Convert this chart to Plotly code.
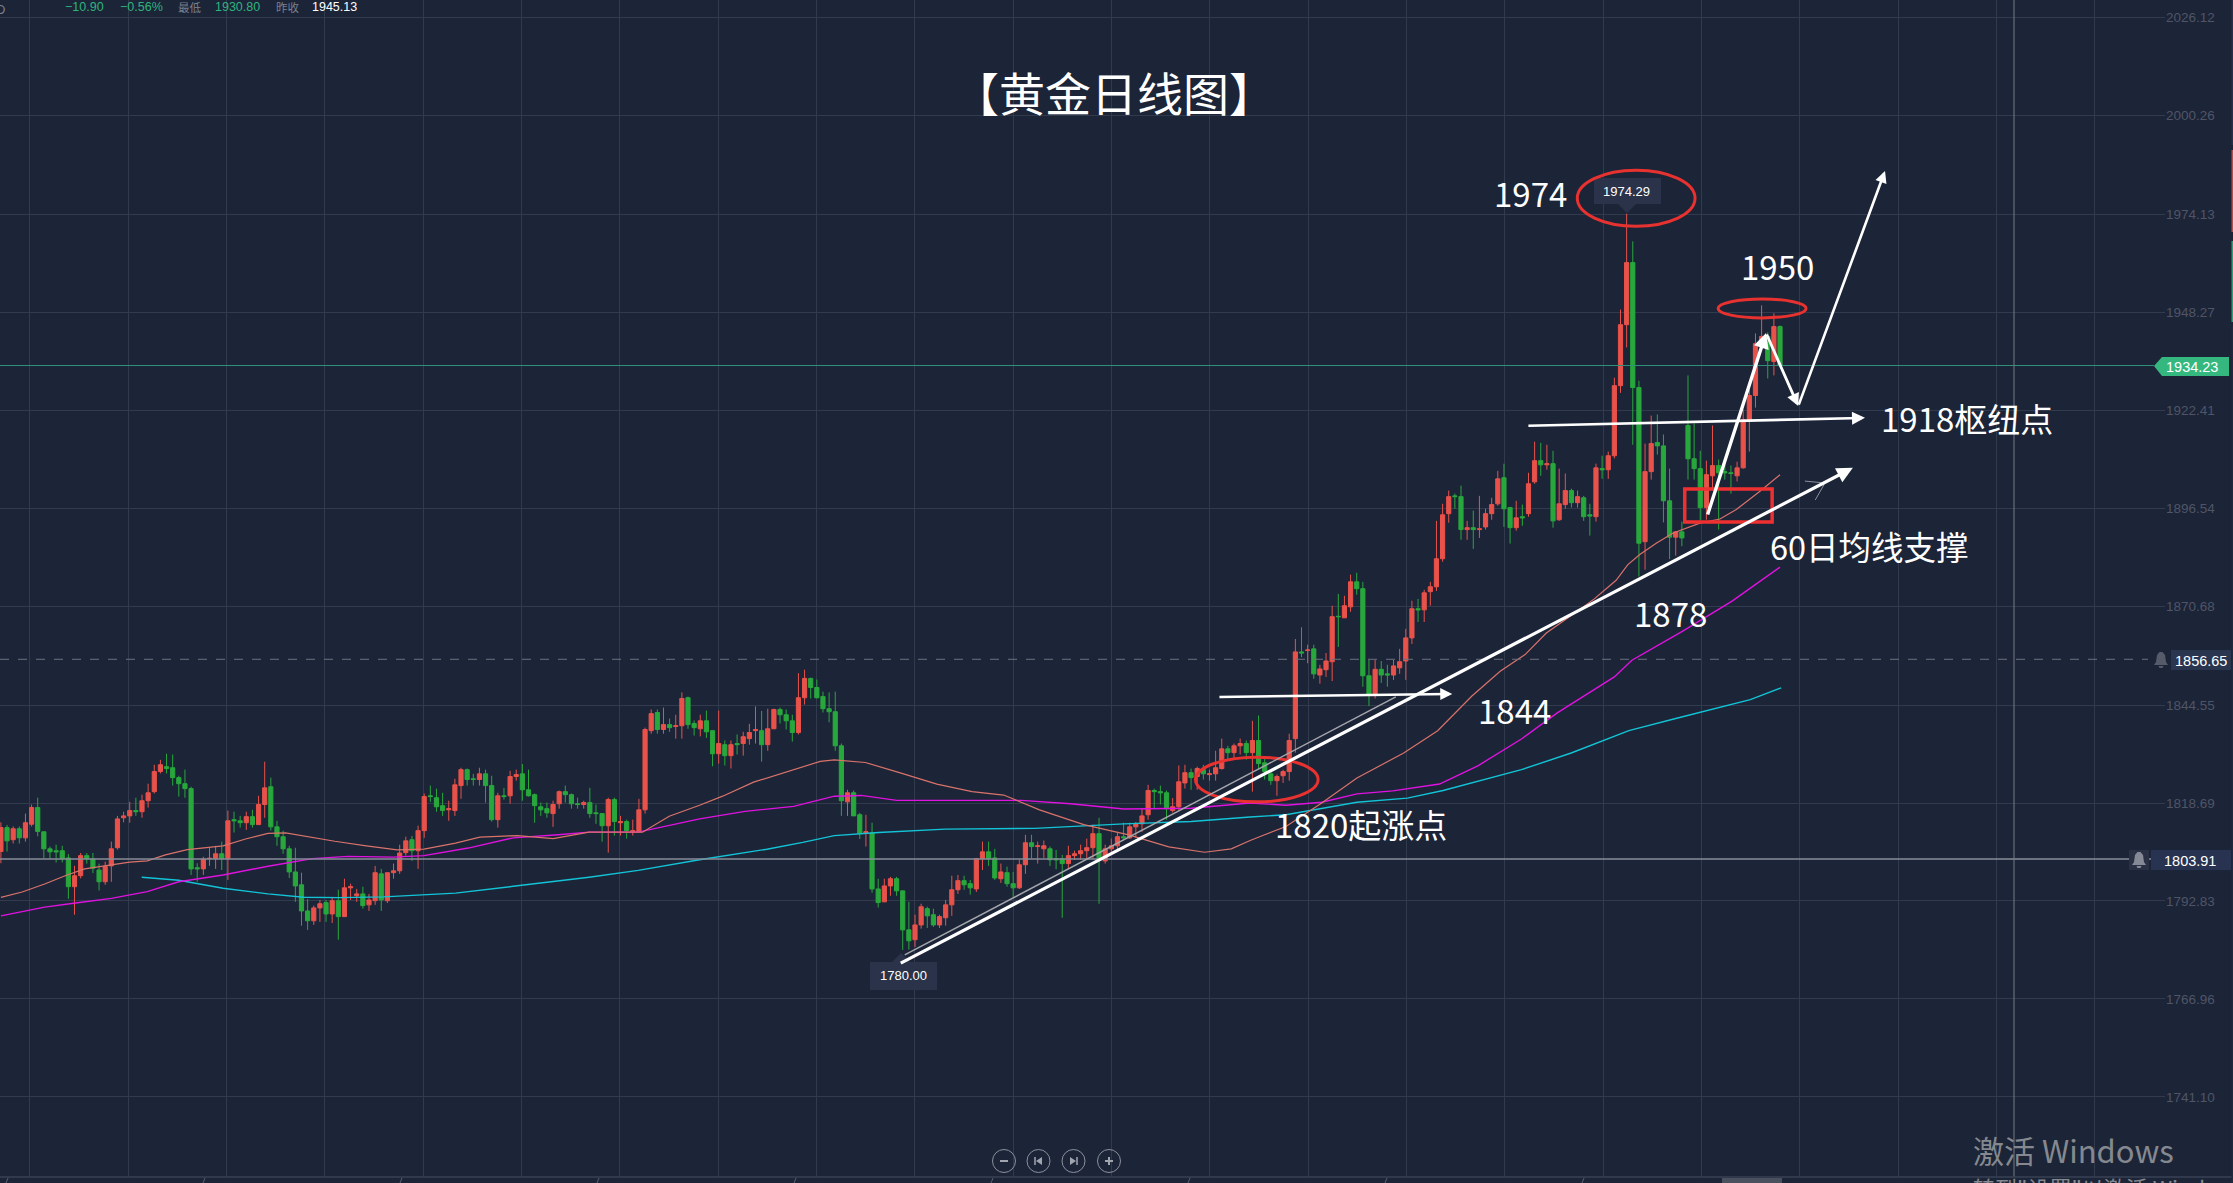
import plotly.graph_objects as go

# ---------- candle data (direction, body top, body bottom, high, low) ----------
direction = (
    "RGRGRRGGGG" "GGRRGGGRRR" "RRGRRRRGGG" "GGGRRRGRGG" "RGRRGGGGGG"
    "GRRGRGRRRG" "RRGRRRRGRR" "GGGRRRGGRG" "GRGRRGGGGG" "RRGGGRGGGR"
    "GRGRRRRGRGRRGG"
    "RGGRGRGRRR" "GRRGGGRRGG" "GGGGRGGRGG" "RRGGGRRGGR" "RRRGGRRGGR"
    "GGRRGRRGGG" "RRRRRGRRRG" "RRRRGGGRRR" "GRGRRRGRRG" "RGGGRRRR"
    "GRGRRRGRRG" "GGRGGRRRRG" "RRRRRGGRGR" "RRRGGRGRRG" "RGRRGRGGRGR"
    "RRRGGRRGGG" "RGGGGRRGGG" "RRRRRGRG"
)
body_top = [
    1812.2,1812.2,1811.9,1811.9,1813.5,1817.5,1817.5,1811.1,1806.6,1806.1,
    1806.1,1804.2,1799.5,1804.8,1804.8,1803.9,1801,1801.9,1806.6,1814.5,
    1815.3,1816.7,1816.7,1819.3,1821.4,1827,1828.8,1828.3,1828,1825.4,
    1823.8,1822.5,1801.6,1803.9,1804.1,1805.3,1805.3,1814,1814.3,1814,
    1815.1,1815.1,1818.3,1822.7,1823,1812.4,1809.8,1806.6,1800.5,1797.1,
    1790.2,1791,1792.1,1792.4,1792.9,1792.9,1796.3,1796.6,1794.7,1794.7,
    1793.1,1800.3,1800,1800.3,1800.8,1805.5,1808.7,1809,1811.4,1820.4,
    1820.6,1820.1,1818,1817.2,1823.5,1827.5,1827.5,1825.1,1826.4,1826.4,
    1823.3,1820.6,1820.6,1825.7,1826.2,1826.4,1822.2,1820.9,1817.7,1817.2,
    1818.3,1821.7,1821.7,1820.9,1818.5,1818.8,1818.8,1816.1,1815.9,1819.6,
    1819.6,1813.8,1813.8,1811.4,1816.9,1838.1,1842.3,1842.6,1839.4,1839.4,1839.1,1846.3,1846.5,1839.7,
    1840.4,1840.4,1837.8,1834.4,1834.1,1834.1,1834.4,1836.2,1837.3,1838.1,
    1837.8,1838.3,1843.4,1843.4,1842,1840.4,1846.5,1851.6,1851.6,1849.2,
    1846.8,1843.6,1842.8,1833.8,1821.4,1821.4,1815.6,1811.1,1810.8,1796,
    1796.8,1798.7,1798.7,1795.5,1785.2,1786.5,1791.3,1790.8,1789.2,1788.7,
    1791.8,1795.8,1798.2,1798.2,1797.4,1804,1805.8,1805.8,1804.2,1800.5,
    1800.3,1797.4,1802.4,1808.2,1808.2,1807.4,1807.4,1806.6,1804,1804,
    1804.8,1805.3,1806.1,1806.9,1810.6,1810.6,1806.6,1807.4,1809.8,1809.8,
    1812.4,1813.2,1815.3,1822,1822,1821.7,1821.4,1817.7,1824.3,1826.7,
    1826.7,1827.8,1827.5,1826.4,1828,1833,1833,1833.8,1834.4,1834.4,
    1835.2,1835.2,1829.3,1826.4,1825.7,1827,1835.2,1858.6,
    1858.6,1859.1,1859.4,1854.1,1856.2,1867.9,1868,1870.8,1877.1,1877.1,
    1875.3,1852.3,1854,1854,1852.8,1854.9,1856,1862.3,1870,1870,
    1874.2,1875.8,1883.2,1894.8,1899.6,1899.8,1899.6,1891.4,1891.4,1891.1,
    1895.1,1897.5,1904.3,1904.6,1896.7,1894,1894.3,1903,1909.1,1909.1,
    1908.3,1908.3,1897.7,1901.2,1901.2,1899.6,1899.3,1894.8,1907.2,1907,1910.4,
    1928.9,1945,1961.4,1961.4,1928.4,1906.2,1913.6,1913.9,1913,1898.5,
    1890.3,1890.3,1918.4,1909.6,1907,1905.4,1907.8,1907.8,1906.2,1905.9,
    1907.2,1919.9,1926.3,1940,1941.9,1941.9,1944.5,1944.5,
]
body_bottom = [
    1805.9,1808.7,1809,1809.5,1809.5,1813.1,1811.2,1806.6,1805.8,1805.8,
    1804,1796.6,1796.6,1799.5,1804,1801.5,1797.9,1797.9,1802.1,1806.9,
    1814.8,1815.3,1816.4,1816.4,1819.3,1821.7,1827,1827.8,1825.4,1823.8,
    1822.5,1801.3,1801.3,1801.3,1804,1804,1804,1804,1814,1813.5,
    1813.5,1813,1813,1818.3,1812.4,1809.8,1806.6,1800.5,1796.8,1790.2,
    1787.6,1787.6,1791,1789.4,1789.4,1788.7,1788.7,1796.3,1794.2,1791.6,
    1791.8,1792.9,1793.1,1792.9,1800.3,1800.8,1805.6,1806.1,1806.1,1811.4,
    1820.4,1817.7,1816.7,1816.9,1816.7,1823.3,1824.9,1824.9,1824.9,1823.3,
    1814.3,1814.3,1820.4,1820.6,1825.7,1822.2,1820.6,1818,1816.9,1816.1,
    1815.9,1818.5,1820.9,1818.5,1818.3,1818.3,1815.9,1815.9,1812.7,1812.7,
    1813.8,1813.5,1811.4,1811.1,1811.1,1816.9,1837.8,1838.1,1838.1,1838.6,1838.9,1839.1,1839.4,1838.6,
    1838.3,1837.5,1831.7,1831.7,1831.2,1831.2,1834.1,1834.4,1835.7,1837.8,
    1834.1,1834.1,1838.3,1842,1840.4,1837.3,1837.3,1846.5,1849.2,1846.5,
    1843.6,1842.8,1833.8,1819.3,1819,1815.3,1810.6,1810.8,1796,1792.4,
    1792.6,1796.8,1795.5,1785.2,1782.3,1782.6,1786.5,1788.9,1786.5,1786.5,
    1788.4,1791.8,1795.8,1797.1,1796.3,1796,1804,1804,1798.9,1798.7,
    1797.4,1796.3,1796.3,1802.4,1807.2,1807.2,1806.6,1803.7,1803.7,1802.7,
    1802.7,1804.8,1805.3,1806.1,1806.9,1803.7,1803.4,1806.6,1807.4,1809.5,
    1809.5,1812.4,1813.2,1815.6,1821.7,1821.4,1817.2,1816.7,1817.7,1824,
    1825.4,1825.7,1826.4,1826.2,1826.4,1827.8,1832,1832,1833.8,1832,
    1832,1829.1,1827,1824.6,1824.6,1825.9,1827,1835.7,
    1858.3,1859,1852.8,1852.5,1853.9,1856,1867.9,1867.6,1870.5,1875.3,
    1852.3,1847.5,1847.5,1852.5,1852.5,1852.5,1854.4,1856.2,1862.3,1869.7,
    1869.7,1874.5,1875.8,1883.2,1895.1,1899.6,1890.9,1890.9,1890.9,1890.9,
    1891.6,1895.1,1897.7,1896.4,1891.4,1891.4,1894,1895.1,1903.5,1908,
    1908,1893.2,1893.5,1897.5,1898,1898,1894.3,1894.5,1894.3,1906.7,1906.7,
    1910.4,1928.9,1945,1928.4,1887.3,1887.7,1906.2,1913,1898.5,1888.9,
    1888.9,1888.7,1909.6,1907,1896.7,1896.7,1905.1,1905.9,1905.9,1905.7,
    1905.1,1907.2,1919.9,1926.3,1940,1935.5,1935.3,1934.2,
]
wick_high = [
    1813.6,1812.9,1812.5,1812.5,1815.9,1818.3,1820.1,1811.1,1807.2,1807.7,
    1807.4,1805.2,1802.1,1805.5,1805.5,1805.5,1802.7,1803.2,1808.5,1815.3,
    1816.4,1819,1820.1,1820.9,1823.8,1828.8,1830.1,1831.7,1831.5,1825.9,
    1827.5,1823,1802.8,1804.5,1806.9,1807.4,1808.5,1816.7,1816.4,1815.3,
    1816.4,1816.9,1820.6,1829.6,1825.4,1814,1811.4,1807.4,1806.9,1800.3,
    1793.3,1791.6,1793.1,1793.1,1793.9,1795.8,1798.7,1797.4,1796,1796.6,
    1794.7,1802.1,1801.3,1800.3,1802.7,1807.7,1809.8,1810,1812.7,1821.2,
    1823.3,1822.5,1821.4,1819.3,1825.1,1828,1827.8,1826.4,1828,1827.5,
    1825.9,1821.4,1822.7,1827.2,1827.5,1829,1827.5,1821.2,1818.8,1818.8,
    1819.3,1822,1823.3,1821.2,1820.1,1819.3,1822.7,1818.3,1815.9,1820.1,
    1820.1,1815.3,1814.3,1814.3,1819.8,1838.6,1843.4,1843.4,1843.9,1841,1842,1847.9,1846.8,1840.5,
    1842,1843.1,1838,1843.1,1835.2,1835.2,1836.8,1837.5,1839.6,1844.2,
    1843,1843.6,1843.6,1843.9,1843.4,1842,1853,1853.9,1851.8,1851.3,
    1848.1,1847.9,1848.1,1834.4,1822.2,1822,1816.1,1815.6,1813.5,1798.7,
    1798.7,1799.2,1799.2,1795.5,1792.6,1789.2,1792.1,1791.3,1790.8,1789.2,
    1793.1,1799.5,1799.7,1799.5,1798.4,1804.2,1808.5,1808.5,1806.6,1802.7,
    1801.9,1800.5,1803.7,1810.3,1810.3,1808.5,1808.8,1807.2,1806.3,1805,
    1807.4,1806.1,1807.7,1809.3,1813,1814.8,1807.7,1809.3,1811.1,1813.5,
    1813.5,1813.7,1817.2,1823.5,1822.5,1823.3,1822,1820,1828.6,1828.8,
    1827.8,1828.3,1828.8,1827.5,1832.5,1835.7,1833.8,1834.4,1835.7,1835.2,
    1840.4,1841.8,1830.4,1827.2,1826.2,1827.5,1837,1862,
    1865.1,1860.5,1860.5,1855.2,1858.3,1870.8,1873.9,1873.4,1879,1879.5,
    1877.1,1856.5,1856.5,1856.2,1855.2,1856.5,1859.4,1864.7,1872.1,1872.6,
    1875,1877.1,1893.2,1897.7,1901.2,1900.4,1902.5,1893.2,1895.9,1899.8,
    1896.4,1899.3,1906.4,1908.3,1896.9,1898.5,1897.5,1905.9,1914.1,1913.8,
    1913.3,1911.7,1907,1905.7,1901.7,1901.2,1899.8,1897.7,1908.3,1910.4,1911.5,
    1931,1949,1974.29,1967,1930.2,1913.6,1921,1921.3,1916,1907,
    1890.5,1893,1931.6,1918.9,1911.7,1909.1,1918.4,1909.4,1908.3,1907.8,
    1908.8,1922.6,1927.9,1942.7,1950.1,1943,1948,1944.8,
]
wick_low = [
    1802.8,1805.9,1808,1808,1808.5,1812.5,1809.9,1804,1804,1803,
    1803,1793.4,1789.2,1798.8,1802.7,1800.2,1795.6,1797.1,1797.9,1806.4,
    1813.6,1813.5,1815.3,1814.8,1817.5,1821.2,1826.5,1826.5,1823.3,1820.4,
    1820.1,1799.7,1797.9,1799.7,1802.1,1801.3,1801,1798.4,1810.9,1812.2,
    1811.6,1812.2,1813,1814.8,1811.4,1807.4,1805.3,1798.9,1792.6,1786.3,
    1785.2,1786.5,1787.3,1787.3,1787,1782.6,1788.7,1793.1,1792.6,1790.8,
    1790.2,1791.8,1790.2,1792.3,1798.7,1800,1804.8,1803.4,1801.3,1809.5,
    1819,1816.4,1815.3,1814,1815.3,1819.8,1823.3,1823.3,1823.3,1818.8,
    1813.8,1812.2,1819.6,1818.5,1824.6,1819.3,1820.4,1813.5,1815.3,1814.8,
    1812.4,1817.2,1818.8,1817.2,1817.2,1817.2,1814.8,1813.2,1808.5,1805.6,
    1810.1,1810.1,1809.3,1810.1,1811.1,1815.9,1837,1837,1837,1837.5,1835.7,1835.7,1838.3,1836.5,
    1836.3,1835.9,1828.4,1829.1,1828.6,1827.8,1831.5,1831.2,1834.1,1834.4,
    1829.6,1832.5,1838.3,1839.7,1838.1,1834.9,1836.8,1844.7,1846.3,1846.3,
    1842.6,1840,1832.5,1815.3,1815.3,1815.3,1809.2,1807.2,1795,1791.1,
    1792.6,1794.2,1794.2,1779.9,1780,1780.7,1785.5,1785.7,1786,1785.7,
    1786.3,1788.9,1794.7,1795.8,1794.5,1795.2,1801,1802.1,1798.4,1797.6,
    1796.6,1793.7,1796,1800,1804,1802.7,1804.2,1802.1,1801.2,1788.4,
    1801.2,1803.7,1803.7,1804,1804,1792.1,1802.7,1805,1806.4,1809,
    1809.2,1809.5,1811.1,1814.3,1817.2,1818.3,1814.3,1816.2,1816.7,1822.5,
    1822.2,1822.2,1824.9,1824.6,1824.6,1827.5,1830.1,1830.1,1831.5,1830.1,
    1821.7,1827.5,1824.9,1823.5,1820.6,1824,1824.6,1832,
    1857.2,1855.6,1851.5,1850.2,1852,1850.9,1859.9,1867.6,1869.2,1873.7,
    1849.4,1844.3,1846.3,1850.4,1849.4,1851.2,1852.8,1851.2,1860.7,1866.5,
    1866.5,1870.8,1874.7,1882.4,1892.7,1896.4,1888.2,1888.2,1885.8,1888.7,
    1890.9,1893.5,1897.2,1891.6,1887.2,1890.6,1891.9,1894.3,1903,1905.1,
    1906.7,1891.4,1893.2,1896.4,1896.7,1896.7,1893.2,1889.3,1893,1904.3,1904.3,
    1909.7,1927,1939,1913.3,1878.5,1880.3,1904.1,1910.7,1892.8,1883.1,
    1884,1886.5,1904.1,1904.1,1893.3,1893.5,1901.4,1890.9,1904.1,1900.4,
    1903.6,1907,1911.5,1923.1,1939.3,1930.8,1931.6,1934.2,
]
assert len(direction) == len(body_top) == len(body_bottom) == len(wick_high) == len(wick_low), (
    len(direction), len(body_top), len(body_bottom), len(wick_high), len(wick_low))

# ---------- moving averages: sessions on the chart's own x scale, and price ----------
ma_salmon_x = [0,3.5,7.2,10.9,13.8,17.5,21.2,24.1,27.1,30.7,36.6,40.3,44,46.9,51.3,55,60.2,65.3,69.7,74.9,78.9,85.1,91,96.9,105.7,110.1,115.1,
    118.9,124,130.6,135,137.3,142.4,148.3,154.2,160,165.2,171.1,178.4,185.8,192.4,198.3,202.7,205.8,211.7,217.6,223.4,231.1,236.7,242.3,247,251.1,254.6,259.3,
    262.5,266.1,268,270,272.7,275.5,279.9,283.2,285.9,289.8,293.1]
ma_salmon_y = [1793.8,1795.2,1797.3,1799.7,1801.3,1802.1,1803.1,1803.4,1805,1806.4,1807.4,1809.2,1810.7,1810.8,1809.5,1808.6,1807.4,1806.3,1806.5,1808.1,1809.7,1810.1,1809.3,1811,1811,1815.2,1818.1,
    1820.5,1824.2,1827.5,1829.7,1830.1,1829.4,1826.6,1823.7,1821.7,1820.8,1816.9,1813,1810.3,1807.1,1805.7,1806.6,1808.8,1812.5,1818.7,1825.3,1831.9,1837.8,1846.9,1853.5,1857.9,1863.6,1868.9,
    1872.6,1877.5,1881.6,1884.3,1887.3,1890,1892.6,1893.7,1896.2,1901,1905.4]
ma_magenta_x = [0,7.2,12.3,18.2,24.1,29.3,36.6,44,51.3,57.2,64.6,69.7,77,84.4,91.8,96.9,105,110.1,115.1,
    122.6,130.6,137.3,141.7,147.6,159.3,168.1,176.2,185,196.1,205.8,211.7,217.6,223.4,229.3,237,243.4,
    250.5,256.4,265.8,268.7,277,285.2,293.1]
ma_magenta_y = [1788.9,1791.2,1792.3,1793.5,1795.3,1797.9,1799.7,1802,1804,1804.6,1804.4,1804.8,1806.8,1809.5,1810.3,1811,1811,1812.7,1814.5,
    1816.5,1817.8,1820.5,1820.7,1819.4,1819.4,1819.4,1818.5,1817.1,1817.3,1818.7,1818.1,1818.9,1821.1,1821.9,1823.7,1828.6,
    1835.6,1842.5,1852,1856.4,1864,1872,1881]
ma_cyan_x = [23.2,29.3,36.6,44,49.9,55.7,63.1,70.4,74.9,84.4,91.8,96.9,105,110.1,115.1,
    126.2,132.1,137.3,144.6,155.6,170.3,185,196.1,205.8,211.7,223.4,231.7,237.6,250.5,258.7,268.2,276.4,288.2,293.3]
ma_cyan_y = [1799.1,1798.3,1796.2,1794.7,1793.8,1793.7,1793.9,1794.6,1794.9,1796.7,1798.1,1799.1,1800.9,1802.4,1803.7,
    1806.5,1808.3,1810.1,1810.9,1811.8,1812,1813.2,1813.8,1815,1815.6,1818.9,1820,1822,1827.5,1831.9,1837.8,1841.2,1846,1849.1]

# ---------- axis and labels ----------
y_ticks = [2026.12,2000.26,1974.13,1948.27,1922.41,1896.54,1870.68,1844.55,1818.69,1792.83,1766.96,1741.10]
y_tick_text = ["2026.12","2000.26","1974.13","1948.27","1922.41","1896.54","1870.68","1844.55","1818.69","1792.83","1766.96","1741.10"]
last_price = 1934.23
alert_dashed = 1856.65
alert_solid = 1803.91

W, H = 2233, 1183
BG = "#1c2438"
GRID = "#323a4d"
RED = "#e9524a"
GREEN = "#28a83c"
WHITE = "#ffffff"
CJK = "Noto Sans CJK SC"
SANS = "Liberation Sans"

n = len(body_top)
last_pos = 293.1
bar_pos = [i * last_pos / (n - 1) for i in range(n)]
open_ = [b if d == "R" else t for d, t, b in zip(direction, body_top, body_bottom)]
close = [t if d == "R" else b for d, t, b in zip(direction, body_top, body_bottom)]

fig = go.Figure()
fig.add_trace(go.Candlestick(
    x=bar_pos, open=open_, high=wick_high, low=wick_low, close=close,
    increasing=dict(line=dict(color=RED, width=1), fillcolor=RED),
    decreasing=dict(line=dict(color=GREEN, width=1), fillcolor=GREEN),
    whiskerwidth=0, showlegend=False, hoverinfo="skip"))
for xs, ys, col, w in [(ma_cyan_x, ma_cyan_y, "#12c4d6", 1.4),
                       (ma_magenta_x, ma_magenta_y, "#e012e0", 1.4),
                       (ma_salmon_x, ma_salmon_y, "#d9736a", 1.2)]:
    fig.add_trace(go.Scatter(x=xs, y=ys, mode="lines", line=dict(color=col, width=w),
                             showlegend=False, hoverinfo="skip"))

def fx(p): return p / W
def fy(p): return 1 - p / H

shapes = []
def rect(x0, y0, x1, y1, color):
    shapes.append(dict(type="rect", xref="paper", yref="paper", x0=fx(x0), x1=fx(x1), y0=fy(y0), y1=fy(y1),
                       fillcolor=color, line=dict(width=0), layer="above"))
def poly(points, color):
    path = "M " + " L ".join(f"{fx(a):.5f},{fy(b):.5f}" for a, b in points) + " Z"
    shapes.append(dict(type="path", xref="paper", yref="paper", path=path, fillcolor=color,
                       line=dict(width=0), layer="above"))
def seg(x0, y0, x1, y1, color, w=1, dash="solid"):
    shapes.append(dict(type="line", xref="paper", yref="paper", x0=fx(x0), x1=fx(x1), y0=fy(y0), y1=fy(y1),
                       line=dict(color=color, width=w, dash=dash), layer="above"))
def bell(cx, cy, color):
    poly([(cx-1.5, cy-8), (cx+1.5, cy-8), (cx+4, cy-5), (cx+5, cy+2), (cx+7, cy+5), (cx-7, cy+5), (cx-5, cy+2), (cx-4, cy-5)], color)
    poly([(cx-2.5, cy+6), (cx+2.5, cy+6), (cx+1.5, cy+8), (cx-1.5, cy+8)], color)

# guide lines
for v, col, w, dash, x1 in [(last_price, "#2f8f78", 1.2, "solid", 2154),
                            (alert_dashed, "#6d727e", 1, "dash", 2148),
                            (alert_solid, "#878c98", 1.4, "solid", 2151)]:
    shapes.append(dict(type="line", xref="paper", yref="y", x0=0, x1=fx(x1), y0=v, y1=v,
                       line=dict(color=col, width=w, dash=dash), layer="above"))
seg(2014, 0, 2014, 1177, "#757a86", 1)
seg(0, 1177, W, 1177, "#384054", 1.5)
for k in range(-5, 4):
    seg(993 + 197 * k, 1178, 991 + 197 * k, 1183, "#5a6070", 1)
rect(1722, 1178, 1782, 1183, "#4a505e")

# side strip at the right edge
rect(2231.5, 0, 2233, 145, "#26314b")
rect(2231.5, 150, 2233, 232, "#b5514c")
rect(2231.5, 241, 2233, 322, "#2f9e78")
rect(2231.5, 326, 2233, 1183, "#1f2a40")

# price tags
poly([(2154, 366), (2162, 357), (2229, 357), (2229, 376), (2162, 376)], "#35b87f")
rect(2171, 650, 2231, 670, "#2a3550")
rect(2129, 850, 2149, 870, "#2a3145")
rect(2151, 850, 2231, 870, "#273350")
bell(2161, 660, "#555b69")
bell(2139, 860, "#858a96")

# tooltips
rect(1594, 178, 1661, 204, "#2a3349")
poly([(1618, 204), (1636, 204), (1627, 213)], "#2a3349")
rect(870, 962, 937, 990, "#2a3349")
poly([(892, 962), (910, 962), (901, 953)], "#2a3349")

# zoom buttons
for cx in [1004, 1038.5, 1073.5, 1109]:
    shapes.append(dict(type="circle", xref="paper", yref="paper", x0=fx(cx-11.5), x1=fx(cx+11.5), y0=fy(1161+11.5), y1=fy(1161-11.5),
                       line=dict(color="#8b909b", width=1), layer="above"))
seg(1000, 1161, 1008, 1161, "#a0a5af", 2)
seg(1105, 1161, 1113, 1161, "#a0a5af", 2)
seg(1109, 1157, 1109, 1165, "#a0a5af", 2)
seg(1035, 1157, 1035, 1165, "#a0a5af", 1.5)
poly([(1042, 1157), (1042, 1165), (1036, 1161)], "#a0a5af")
seg(1077, 1157, 1077, 1165, "#a0a5af", 1.5)
poly([(1070, 1157), (1070, 1165), (1076, 1161)], "#a0a5af")

# hand-drawn ellipses and box, on price and session scales
for x0, x1, y0, y1 in [(259.7, 279.1, 1971, 1985.8), (282.9, 297.4, 1946.8, 1951.8), (196.8, 217, 1819, 1830.8)]:
    shapes.append(dict(type="circle", xref="x", yref="y", x0=x0, x1=x1, y0=y0, y1=y1,
                       line=dict(color="#e8322f", width=3), layer="above"))
shapes.append(dict(type="rect", xref="x", yref="y", x0=277.4, x1=291.8, y0=1892.9, y1=1901.6,
                   line=dict(color="#ee3030", width=3.5), layer="above"))
# second thin stroke beside the rising trend line, small grey mark
for (a, b, c, d), col, w in [((148.9, 1778.6, 229.8, 1846.7), "#a4a6ab", 1.5),
                             ((297.2, 1903.7, 300.5, 1903.2), "#8d9098", 1),
                             ((298.9, 1898.7, 300.5, 1903.2), "#8d9098", 1)]:
    shapes.append(dict(type="line", xref="x", yref="y", x0=a, y0=b, x1=c, y1=d,
                       line=dict(color=col, width=w), layer="above"))

annotations = []
def arrow(x0, y0, x1, y1, w, size=1.0):
    annotations.append(dict(x=x1, y=y1, ax=x0, ay=y0, xref="x", yref="y", axref="x", ayref="y", text="",
                            showarrow=True, arrowhead=2, arrowsize=size, arrowwidth=w, arrowcolor=WHITE))
arrow(148, 1776.2, 305.1, 1907.2, 3.2, 1.0)
arrow(200.5, 1846.7, 239.1, 1847.5, 2.4, 1.0)
arrow(251.4, 1918.3, 307.1, 1920.4, 2.6, 1.0)
arrow(281.1, 1894.5, 290.8, 1942.8, 3.4, 0.9)
arrow(290.8, 1942.8, 296.1, 1923.5, 2.8, 0.9)
arrow(296.1, 1923.5, 310.4, 1985.6, 2.6, 0.9)

def text(px, py, s, size, color=WHITE, anchor="center", font=CJK):
    annotations.append(dict(x=fx(px), y=fy(py), xref="paper", yref="paper", text=s, showarrow=False,
                            xanchor=anchor, yanchor="middle", font=dict(family=font, size=size, color=color)))

text(1114, 91, "【黄金日线图】", 46)
text(1530, 193, "1974", 33)
text(1777, 266, "1950", 33)
text(1967, 418, "1918枢纽点", 33)
text(1869, 545, "60日均线支撑", 32.5)
text(1670, 613, "1878", 33)
text(1514, 710, "1844", 33)
text(1361, 824, "1820起涨点", 33)

text(1627, 191, "1974.29", 13, font=SANS)
text(903, 976, "1780.00", 13, font=SANS)
text(2192, 366.5, "1934.23", 14.5, font=SANS)
text(2201, 660.5, "1856.65", 14.5, font=SANS)
text(2190, 860.5, "1803.91", 14.5, font=SANS)

# header line
DOWN = "#2fb37e"; MUTED = "#7a808d"
text(63, 7, "−10.90", 12.5, DOWN, "left", SANS)
text(118, 7, "−0.56%", 12.5, DOWN, "left", SANS)
text(176, 7, "最低", 11.5, MUTED, "left")
text(213, 7, "1930.80", 12.5, DOWN, "left", SANS)
text(274, 7, "昨收", 11.5, MUTED, "left")
text(310, 7, "1945.13", 12.5, WHITE, "left", SANS)
text(7, 10, "D", 13, MUTED, "right", SANS)

# watermark
text(1971, 1149, "激活 Windows", 31, "#85898f", "left")
text(1971, 1187, "转到\"设置\"以激活 Windows。", 22, "#85898f", "left")

def to_pos(px): return (px - 0.9) / 6.07
def to_price(py): return 2026.12 - (py - 17.5) / 3.787

fig.update_layout(
    width=W, height=H, margin=dict(l=0, r=0, t=0, b=0),
    paper_bgcolor=BG, plot_bgcolor=BG, showlegend=False, boxgap=0.32, boxgroupgap=0,
    shapes=shapes, annotations=annotations, hovermode=False,
    xaxis=dict(domain=[0, 2165 / W], range=[to_pos(0), to_pos(2165)], rangeslider=dict(visible=False),
               showgrid=True, gridcolor=GRID, gridwidth=1, tick0=4.79, dtick=16.2, tickmode="linear",
               showticklabels=False, ticks="", zeroline=False, showline=False, anchor="y"),
    yaxis=dict(domain=[6 / H, 1], range=[to_price(1177), to_price(0)], side="right", anchor="x",
               tickmode="array", tickvals=y_ticks, ticktext=y_tick_text, showgrid=True, gridcolor=GRID, gridwidth=1,
               tickfont=dict(family=SANS, size=13.5, color="#4f5566"), ticks="", zeroline=False, showline=False),
)
fig.write_html("out.html", config=dict(displayModeBar=False),
               post_script="document.body.style.margin='0';document.body.style.overflow='hidden';document.body.style.background='#1c2438';")
